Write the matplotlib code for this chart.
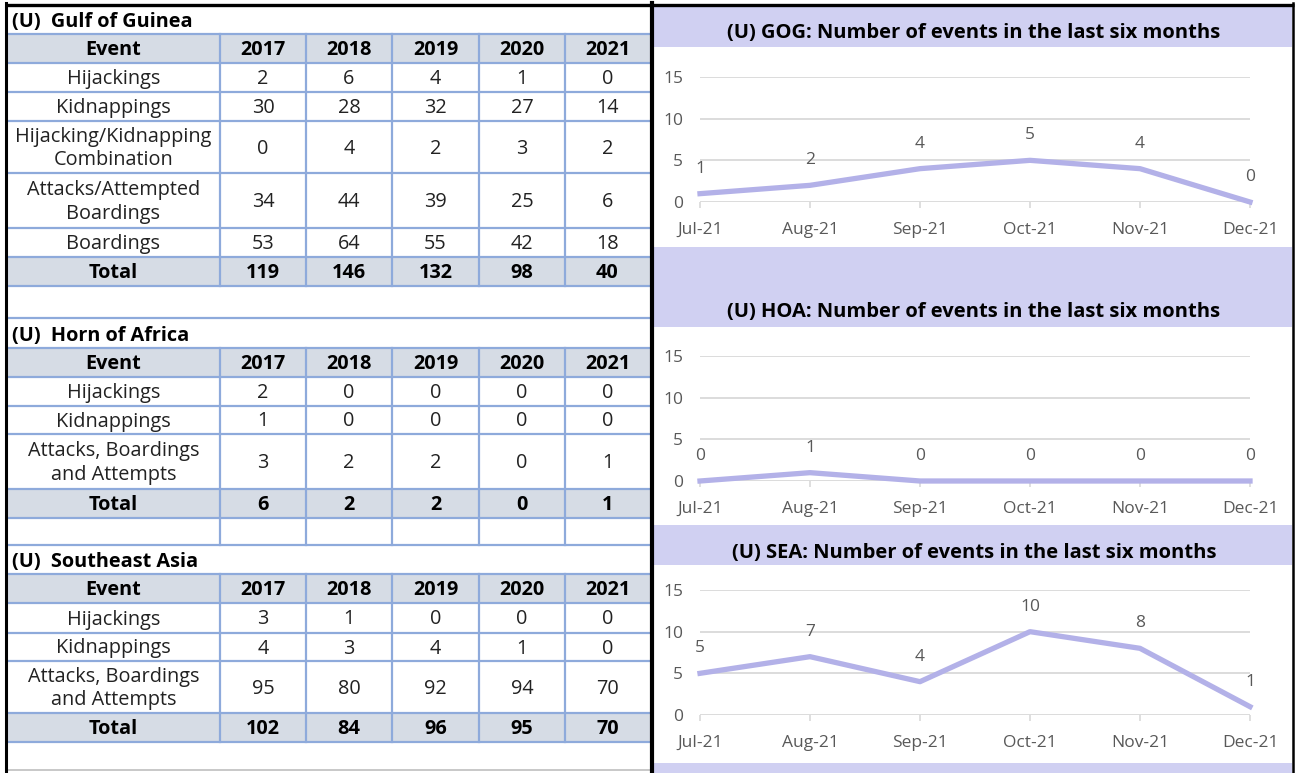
import numpy as np
import matplotlib
matplotlib.use('Agg')
import matplotlib.pyplot as plt
from matplotlib.patches import Rectangle

plt.rcParams['font.family'] = ['Open Sans', 'DejaVu Sans']

# ---- data ----
years = ['2017', '2018', '2019', '2020', '2021']

gog_events = ['Hijackings', 'Kidnappings', 'Hijacking/Kidnapping\nCombination',
              'Attacks/Attempted\nBoardings', 'Boardings']
gog_values = [[2, 6, 4, 1, 0], [30, 28, 32, 27, 14], [0, 4, 2, 3, 2],
              [34, 44, 39, 25, 6], [53, 64, 55, 42, 18]]
gog_total = [119, 146, 132, 98, 40]

hoa_events = ['Hijackings', 'Kidnappings', 'Attacks, Boardings\nand Attempts']
hoa_values = [[2, 0, 0, 0, 0], [1, 0, 0, 0, 0], [3, 2, 2, 0, 1]]
hoa_total = [6, 2, 2, 0, 1]

sea_events = ['Hijackings', 'Kidnappings', 'Attacks, Boardings\nand Attempts']
sea_values = [[3, 1, 0, 0, 0], [4, 3, 4, 1, 0], [95, 80, 92, 94, 70]]
sea_total = [102, 84, 96, 95, 70]

months = ['Jul-21', 'Aug-21', 'Sep-21', 'Oct-21', 'Nov-21', 'Dec-21']
gog_monthly = [1, 2, 4, 5, 4, 0]
hoa_monthly = [0, 1, 0, 0, 0, 0]
sea_monthly = [5, 7, 4, 10, 8, 1]

# ---- style ----
W, H = 1296, 773
BLUE = '#8EAADB'
HEAD = '#D6DCE5'
LAV = '#D0D0F2'
LINE = '#B3B1E8'
GRID = '#D9D9D9'
TXT = '#595959'
FS = 14.3

fig = plt.figure(figsize=(W / 100, H / 100), dpi=100)
bg = fig.add_axes([0, 0, 1, 1])
bg.set_xlim(0, W)
bg.set_ylim(H, 0)
bg.axis('off')

cols = [7, 220, 306, 392, 479, 565, 650]


def hline(y, x0=7, x1=650, color=BLUE, lw=1.6):
    bg.plot([x0, x1], [y, y], color=color, lw=lw, solid_capstyle='butt')


def draw_table(title, events, values, totals, edges, extra=None):
    # edges: title top, header top, header bottom, row bottoms..., total bottom
    t0, h0, h1 = edges[0], edges[1], edges[2]
    bot = edges[-1]
    bg.add_patch(Rectangle((7, h0), 643, h1 - h0, color=HEAD, lw=0))
    bg.add_patch(Rectangle((7, edges[-2]), 643, bot - edges[-2], color=HEAD, lw=0))
    bg.text(12, (t0 + h0) / 2 + 2.5, title, fontsize=FS, fontweight='bold',
            ha='left', va='center', color='black')
    for y in edges[1:]:
        hline(y)
    vb = extra if extra else bot
    for x in cols[1:-1]:
        bg.plot([x, x], [h0, vb], color=BLUE, lw=1.6)
    if extra:
        hline(extra)
    # header
    yc = (h0 + h1) / 2 + 1.5
    bg.text((cols[0] + cols[1]) / 2, yc, 'Event', fontsize=FS, fontweight='bold',
            ha='center', va='center')
    for j, yr in enumerate(years):
        bg.text((cols[j + 1] + cols[j + 2]) / 2, yc, yr, fontsize=FS,
                fontweight='bold', ha='center', va='center')
    # body
    for i, ev in enumerate(events):
        yc = (edges[2 + i] + edges[3 + i]) / 2 + 1.5
        bg.text((cols[0] + cols[1]) / 2, yc, ev, fontsize=FS, ha='center',
                va='center', linespacing=1.25, color='#222222')
        for j, v in enumerate(values[i]):
            bg.text((cols[j + 1] + cols[j + 2]) / 2, yc, str(v), fontsize=FS,
                    ha='center', va='center', color='#222222')
    yc = (edges[-2] + bot) / 2 + 1.5
    bg.text((cols[0] + cols[1]) / 2, yc, 'Total', fontsize=FS, fontweight='bold',
            ha='center', va='center')
    for j, v in enumerate(totals):
        bg.text((cols[j + 1] + cols[j + 2]) / 2, yc, str(v), fontsize=FS,
                fontweight='bold', ha='center', va='center')


draw_table('(U)  Gulf of Guinea', gog_events, gog_values, gog_total,
           [6, 34, 63, 92, 121, 173, 228, 257, 286])
hline(318)
draw_table('(U)  Horn of Africa', hoa_events, hoa_values, hoa_total,
           [318, 348, 377, 406, 434, 489, 518], extra=545)
draw_table('(U)  Southeast Asia', sea_events, sea_values, sea_total,
           [545, 574, 603, 633, 661, 713, 742])
hline(770, color='#BFBFBF', lw=1.2)

# ---- right panel bands ----
for y0, y1 in [(6, 47), (247, 327), (525, 565), (763, 773)]:
    bg.add_patch(Rectangle((654, y0), 638, y1 - y0, color=LAV, lw=0))

titles = ['(U) GOG: Number of events in the last six months',
          '(U) HOA: Number of events in the last six months',
          '(U) SEA: Number of events in the last six months']
for t, y in zip(titles, [33, 312, 553]):
    bg.text(974, y, t, fontsize=14.5, fontweight='bold', ha='center', va='center')

# black frame
bg.plot([5, 1294], [4.5, 4.5], color='black', lw=2.4, solid_capstyle='butt')
bg.plot([6, 6], [3, H], color='black', lw=2.2)
bg.plot([652, 652], [3, H], color='black', lw=3)
bg.plot([1293, 1293], [3, H], color='black', lw=1.8)

# ---- line charts ----
for vals, zero_y in [(gog_monthly, 202), (hoa_monthly, 481), (sea_monthly, 715)]:
    ax = fig.add_axes([700 / W, (H - zero_y) / H, 550 / W, 125 / H])
    x = np.arange(len(months))
    ax.plot(x, vals, color=LINE, lw=3.8, clip_on=False, zorder=3,
            solid_joinstyle='round')
    for i, v in enumerate(vals):
        ax.annotate(str(v), (i, v), xytext=(0, 18), textcoords='offset points',
                    ha='center', va='center', fontsize=12.5, color=TXT)
    ax.set_xlim(0, 5)
    ax.set_ylim(0, 15)
    ax.set_yticks([0, 5, 10, 15])
    ax.set_xticks(x)
    ax.set_xticklabels(months)
    ax.yaxis.grid(True, color=GRID, lw=1.3)
    ax.set_axisbelow(True)
    for s in ax.spines.values():
        s.set_visible(False)
    ax.tick_params(axis='y', length=0, pad=12, labelsize=12.5, labelcolor=TXT)
    ax.tick_params(axis='x', length=4, width=1.2, color=GRID, pad=10.5,
                   labelsize=12.5, labelcolor=TXT)
    ax.patch.set_alpha(0)

plt.savefig('out.png', dpi=100)
